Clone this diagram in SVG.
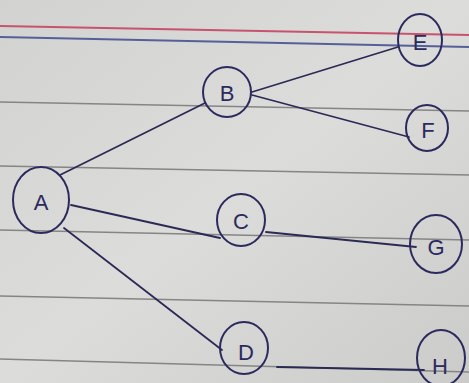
<svg xmlns="http://www.w3.org/2000/svg" width="469" height="383" viewBox="0 0 469 383">
<defs>
<linearGradient id="paper" x1="0" y1="0" x2="1" y2="1">
<stop offset="0" stop-color="#d2d2d0"/>
<stop offset="0.5" stop-color="#dcdcda"/>
<stop offset="1" stop-color="#cbcbc9"/>
</linearGradient>
<style>
.rule{stroke:#858585;stroke-width:1.6;fill:none}
.node ellipse{fill:none;stroke:#2b2a5e;stroke-width:2}
.node text{font-family:"Liberation Sans",Arial,sans-serif;font-size:22px;fill:#2b2a5e;text-anchor:middle;dominant-baseline:central}
#edges line{stroke:#2b2a55;stroke-width:1.8;stroke-linecap:round}
</style>
</defs>
<rect width="469" height="383" fill="url(#paper)"/>
<g id="paper-lines">
<line x1="0" y1="26" x2="469" y2="35" stroke="#c8536e" stroke-width="2"/>
<line x1="0" y1="37" x2="469" y2="47" stroke="#55609a" stroke-width="2"/>
<line class="rule" x1="0" y1="102" x2="469" y2="111"/>
<line class="rule" x1="0" y1="166" x2="469" y2="175"/>
<line class="rule" x1="0" y1="230" x2="469" y2="240"/>
<line class="rule" x1="0" y1="296" x2="469" y2="306"/>
<line class="rule" x1="0" y1="359" x2="469" y2="372"/>
</g>
<g id="edges">
<line x1="60" y1="175" x2="205" y2="103"/>
<line x1="71" y1="205" x2="220" y2="238"/>
<line x1="64" y1="228" x2="222" y2="350"/>
<line x1="252" y1="92" x2="398" y2="47"/>
<line x1="252" y1="95" x2="409" y2="137"/>
<line x1="266" y1="232" x2="416" y2="247"/>
<line x1="277" y1="367" x2="424" y2="370"/>
</g>
<g id="node-A" class="node"><ellipse cx="41" cy="200" rx="28" ry="33"/><text x="41" y="202">A</text></g>
<g id="node-B" class="node"><ellipse cx="227" cy="92" rx="24" ry="25"/><text x="227" y="93">B</text></g>
<g id="node-C" class="node"><ellipse cx="241" cy="220" rx="24" ry="26"/><text x="241" y="221">C</text></g>
<g id="node-D" class="node"><ellipse cx="244" cy="348" rx="24" ry="26"/><text x="246" y="352">D</text></g>
<g id="node-E" class="node"><ellipse cx="420" cy="40" rx="22" ry="26"/><text x="420" y="42">E</text></g>
<g id="node-F" class="node"><ellipse cx="427" cy="128" rx="21" ry="23"/><text x="428" y="130">F</text></g>
<g id="node-G" class="node"><ellipse cx="436" cy="244" rx="26" ry="29"/><text x="436" y="247">G</text></g>
<g id="node-H" class="node"><ellipse cx="441" cy="358" rx="24" ry="28"/><text x="440" y="366">H</text></g>
</svg>
